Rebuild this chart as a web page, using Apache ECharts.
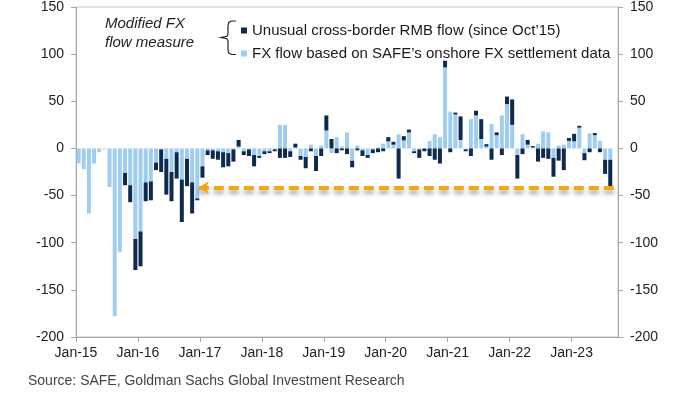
<!DOCTYPE html>
<html>
<head>
<meta charset="utf-8">
<script src="https://cdn.jsdelivr.net/npm/echarts@6/dist/echarts.min.js"></script>
<style>
html,body{margin:0;padding:0;background:#fff;}
#chart{width:700px;height:394px;}
</style>
</head>
<body>
<div id="chart"></div>
<script>
// Monthly data, Jan-15 .. Aug-23 (USD bn); axis runs to Sep-23
const xTickLabels = ['Jan-15','Jan-16','Jan-17','Jan-18','Jan-19','Jan-20','Jan-21','Jan-22','Jan-23'];
const seriesNames = ['Unusual cross-border RMB flow (since Oct\u201915)', 'FX flow based on SAFE\u2019s onshore FX settlement data'];
const monthNames = ['Jan','Feb','Mar','Apr','May','Jun','Jul','Aug','Sep','Oct','Nov','Dec'];
const years = ['15','16','17','18','19','20','21','22','23'];

// FX flow based on SAFE's onshore FX settlement data (light blue)
const fxSettlement = [
  -16, -22, -69, -16, -4, -1, -41, -178, -110, -26, -39, -96,      // 2015
  -88, -36, -35, -15, -1, -11, -25, -4, -33, -11, -36, -53,        // 2016
  -19, -2, -2, -3, -4, -5, -1, 2, -3, -1, -7, -8,                  // 2017
  -3, -3, -1, 25, 25, -3, 1, -8, -9, 4, -8, 3,                     // 2018
  19, -5, 12, 2, 17, -13, 3, -2, -7, -1, 1, 5,                     // 2019
  7.5, 4, 15, 8.5, 17, -3, -1, 0, 8, 15, 12, 86,                   // 2020
  39, 36, 9, -1, 31, 35, 10, 2, 26, 14, 35, 47,                    // 2021
  25, -7, 15, 4, 1, 5, 18, 17, -10, 3, 4, 8,                       // 2022
  7.5, 22, -5, 16, 14, 8, -12, -12                                 // 2023
];

// Unusual cross-border RMB flow, since Oct-15 (dark navy)
const unusualRMB = [
  null, null, null, null, null, null, null, null, null, -13, -18, -33, // 2015
  -37, -20, -20, -8, -24, -38, -31, -28, -45, -29, -33, -2,        // 2016
  -12, -5, -9, -9, -16, -14, -13, 7, -4, -7, -12, -2,              // 2017
  -3, -2, -2, -10, -10, -6, 4, -4, -12, -3, -16, -8,               // 2018
  16, 10, -5, -2, -6, -7, -2, -6, -3, -4, -4, -3,                  // 2019
  4.5, 3, -32, 4.5, 3, -2, -9, -3, -8, -12, -16, 7,                // 2020
  -4, 2, 25, -2, -8, 5, 21, 2.5, -12, 3, -7, 8,                    // 2021
  27, -25, -6, 5, 1.5, -14, -10, -11, -20, -13, -23, 3,            // 2022
  8, 2, -7.5, -4, 2.3, -4, -15, -30                                // 2023
];

// Annotation arrow: level and span (months from Jan-15)
const arrowLevel = -41.5;
const arrowFromMonth = 23.8;
const arrowToMonth = 104.2;

// categories: Jan-15 .. Sep-23 (105 months)
const months = [];
years.forEach(y => monthNames.forEach(m => months.push(m + '-' + y)));
months.length = 105;

const FONT = '"Liberation Sans", Arial, Helvetica, sans-serif';
const LIGHT = '#9fcdf2';
const DARK = '#0e2a4e';
const AXIS = '#a6a6a6';

const chart = echarts.init(document.getElementById('chart'), null, {renderer: 'canvas'});

const yAxisCommon = {
  type: 'value', min: -200, max: 150, interval: 50,
  splitLine: {show: false},
  axisLine: {show: true, lineStyle: {color: AXIS, width: 1}},
  axisTick: {show: true, length: 5, lineStyle: {color: AXIS}},
  axisLabel: {color: '#222', fontSize: 14, fontFamily: FONT, margin: 12}
};

chart.setOption({
  animation: false,
  grid: {left: 76, right: 82, top: 7, bottom: 57, show: true, borderColor: '#c8c8c8', borderWidth: 1},
  legend: {
    orient: 'vertical', left: 236, top: 18, itemWidth: 6, itemHeight: 6, itemGap: 8,
    icon: 'rect', data: [seriesNames[0], seriesNames[1]],
    textStyle: {color: '#1a1a1a', fontSize: 15, fontFamily: FONT}
  },
  xAxis: [
    {
      type: 'category', data: months, boundaryGap: true, show: false, position: 'bottom'
    },
    {
      type: 'value', min: 0, max: months.length, interval: 12, position: 'bottom',
      splitLine: {show: false},
      axisLine: {show: true, onZero: false, lineStyle: {color: AXIS}},
      axisTick: {show: true, length: 5, lineStyle: {color: AXIS}},
      axisLabel: {
        color: '#222', fontSize: 14, fontFamily: FONT, margin: 9, showMaxLabel: false,
        formatter: v => (v % 12 === 0 && xTickLabels[v / 12]) ? xTickLabels[v / 12] : ''
      }
    }
  ],
  yAxis: [
    Object.assign({position: 'left'}, yAxisCommon),
    Object.assign({position: 'right'}, yAxisCommon)
  ],
  graphic: [
    {type: 'text', left: 105, top: 16, style: {text: 'Modified FX', font: 'italic 15px ' + FONT, fill: '#222'}},
    {type: 'text', left: 105, top: 35, style: {text: 'flow measure', font: 'italic 15px ' + FONT, fill: '#222'}},
    {type: 'polyline', silent: true, shape: {points: [[236,21],[231.5,21],[228.8,22.5],[228,25.5],[228,34],[227,36.3],[221,37.5],[227,38.7],[228,41],[228,50],[228.8,53],[231.5,54.5],[236,54.5]]},
      style: {stroke: '#222', lineWidth: 1.2, fill: null}},
    {type: 'text', left: 28, top: 374, style: {text: 'Source: SAFE, Goldman Sachs Global Investment Research', font: '14px ' + FONT, fill: '#444'}}
  ],
  series: [
    {
      name: seriesNames[1], type: 'bar', stack: 'flow', barWidth: 4, xAxisIndex: 0, yAxisIndex: 0,
      itemStyle: {color: LIGHT}, data: fxSettlement
    },
    {
      name: seriesNames[0], type: 'bar', stack: 'flow', barWidth: 4, xAxisIndex: 0, yAxisIndex: 0,
      itemStyle: {color: DARK}, data: unusualRMB
    },
    {
      name: 'arrow', type: 'line', xAxisIndex: 1, yAxisIndex: 0, data: [], silent: true,
      markLine: {
        silent: true, symbol: ['arrow', 'none'], symbolSize: [10, 10],
        label: {show: false},
        lineStyle: {color: '#F3A712', width: 4, type: [10, 5], shadowColor: 'rgba(0,0,0,0.35)', shadowBlur: 4, shadowOffsetY: 4},
        data: [[{coord: [arrowFromMonth, arrowLevel]}, {coord: [arrowToMonth, arrowLevel]}]]
      }
    }
  ]
});
</script>
</body>
</html>
